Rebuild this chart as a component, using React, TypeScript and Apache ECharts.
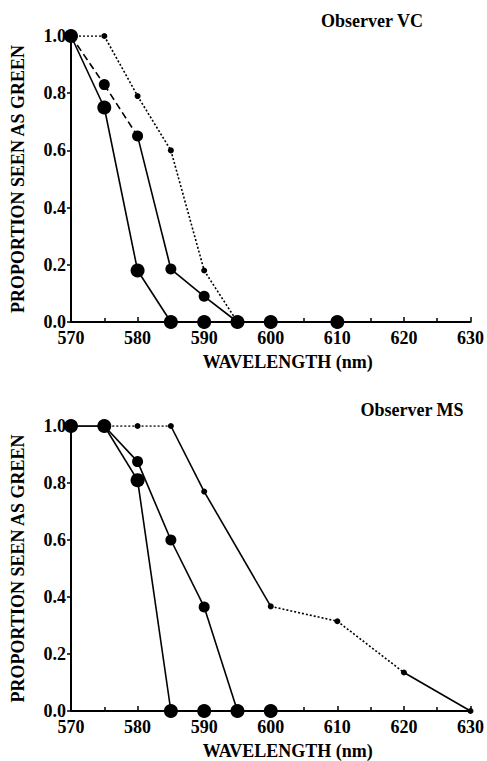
import React, { useEffect, useRef } from "react";
import * as echarts from "echarts";

// Observer VC
const vcLargeWl = [570, 575, 580, 585, 590, 595, 600, 610];
const vcLarge = [1.0, 0.75, 0.18, 0, 0, 0, 0, 0];
const vcLargeStyles = ["solid", "solid", "solid", "solid", "solid", "solid", "solid"];
const vcMediumWl = [570, 575, 580, 585, 590, 595];
const vcMedium = [1.0, 0.83, 0.65, 0.185, 0.09, 0];
const vcMediumStyles = ["dashed", "dashed", "solid", "solid", "solid"];
const vcSmallWl = [570, 575, 580, 585, 590, 595];
const vcSmall = [1.0, 1.0, 0.79, 0.6, 0.18, 0];
const vcSmallStyles = ["dotted", "dotted", "dotted", "dotted", "dotted"];

// Observer MS
const msLargeWl = [570, 575, 580, 585, 590, 595, 600];
const msLarge = [1.0, 1.0, 0.81, 0, 0, 0, 0];
const msLargeStyles = ["solid", "solid", "solid", "solid", "solid", "solid"];
const msMediumWl = [570, 575, 580, 585, 590, 595];
const msMedium = [1.0, 1.0, 0.875, 0.6, 0.365, 0];
const msMediumStyles = ["solid", "solid", "solid", "solid", "solid"];
const msSmallWl = [575, 580, 585, 590, 600, 610, 620, 630];
const msSmall = [1.0, 1.0, 1.0, 0.77, 0.367, 0.315, 0.135, 0];
const msSmallStyles = ["dotted", "dotted", "solid", "solid", "dotted", "dotted", "solid"];

const xTicks = [570, 580, 590, 600, 610, 620, 630];
const yTicks = [0, 0.2, 0.4, 0.6, 0.8, 1.0];
const titles = ["Observer VC", "Observer MS"];

const FONT = "'Liberation Serif', 'Times New Roman', serif";

function buildCurve(
  wl: number[],
  vals: number[],
  styles: string[],
  size: number,
  gridIdx: number
) {
  const out: any[] = [];
  for (let i = 0; i < wl.length - 1; i++) {
    const st = styles[i];
    const type = st === "dashed" ? [7, 4] : st === "dotted" ? [2, 2] : "solid";
    out.push({
      type: "line",
      xAxisIndex: gridIdx,
      yAxisIndex: gridIdx,
      data: [
        [wl[i], vals[i]],
        [wl[i + 1], vals[i + 1]],
      ],
      symbol: "none",
      silent: true,
      z: 3,
      lineStyle: { color: "#000", width: 1.6, type },
    });
  }
  out.push({
    type: "scatter",
    xAxisIndex: gridIdx,
    yAxisIndex: gridIdx,
    data: wl.map((w, i) => [w, vals[i]]),
    symbol: "circle",
    symbolSize: size,
    z: 5,
    itemStyle: { color: "#000", opacity: 1 },
  });
  return out;
}

export default function App() {
  const ref = useRef<HTMLDivElement>(null);
  useEffect(() => {
    document.body.style.margin = "0";
    const chart = echarts.init(ref.current!, null, { renderer: "svg" });
    const grids = [
      { left: 71, top: 36, width: 401, height: 286 },
      { left: 71, top: 426, width: 401, height: 286 },
    ];
    const xAxes = grids.map((_, i) => ({
      type: "value",
      gridIndex: i,
      min: xTicks[0],
      max: xTicks[xTicks.length - 1],
      interval: 10,
      name: "WAVELENGTH (nm)",
      nameLocation: "middle",
      nameGap: 31,
      nameTextStyle: {
        fontFamily: FONT,
        fontWeight: "bold",
        fontSize: 18,
        lineHeight: 18,
        color: "#000",
        padding: [0, 0, 0, 34],
      },
      axisLine: { show: true, onZero: false, lineStyle: { color: "#000", width: 2 } },
      axisTick: { show: true, inside: true, length: 5, lineStyle: { color: "#000", width: 1.5 } },
      minorTick: { show: true, splitNumber: 2, length: 4, lineStyle: { color: "#000", width: 1.5 } },
      splitLine: { show: false },
      axisLabel: {
        margin: 9,
        fontFamily: FONT,
        fontWeight: "bold",
        fontSize: 18,
        lineHeight: 14,
        color: "#000",
      },
    }));
    const yAxes = grids.map((_, i) => ({
      type: "value",
      gridIndex: i,
      min: yTicks[0],
      max: yTicks[yTicks.length - 1],
      interval: 0.2,
      name: "PROPORTION SEEN AS GREEN",
      nameLocation: "middle",
      nameGap: 44,
      nameTextStyle: { fontFamily: FONT, fontWeight: "bold", fontSize: 18, color: "#000" },
      axisLine: { show: true, onZero: false, lineStyle: { color: "#000", width: 2 } },
      axisTick: { show: true, inside: false, length: 4, lineStyle: { color: "#000", width: 1.5 } },
      splitLine: { show: false },
      axisLabel: {
        margin: 5,
        fontFamily: FONT,
        fontWeight: "bold",
        fontSize: 18,
        lineHeight: 12,
        padding: [0, 0, 4, 0],
        color: "#000",
        formatter: (v: number) => v.toFixed(1),
      },
    }));
    const series = [
      ...buildCurve(vcSmallWl, vcSmall, vcSmallStyles, 6, 0),
      ...buildCurve(vcMediumWl, vcMedium, vcMediumStyles, 11, 0),
      ...buildCurve(vcLargeWl, vcLarge, vcLargeStyles, 14, 0),
      ...buildCurve(msSmallWl, msSmall, msSmallStyles, 6, 1),
      ...buildCurve(msMediumWl, msMedium, msMediumStyles, 11, 1),
      ...buildCurve(msLargeWl, msLarge, msLargeStyles, 14, 1),
    ];
    chart.setOption({
      animation: false,
      backgroundColor: "#fff",
      grid: grids,
      xAxis: xAxes,
      yAxis: yAxes,
      series,
      graphic: [
        {
          type: "text",
          x: 372,
          y: 21,
          style: {
            text: titles[0],
            fontFamily: FONT,
            fontWeight: "bold",
            fontSize: 18,
            fill: "#000",
            textAlign: "center",
            textVerticalAlign: "middle",
          },
        },
        {
          type: "text",
          x: 412,
          y: 410,
          style: {
            text: titles[1],
            fontFamily: FONT,
            fontWeight: "bold",
            fontSize: 18,
            fill: "#000",
            textAlign: "center",
            textVerticalAlign: "middle",
          },
        },
      ],
    });
    return () => chart.dispose();
  }, []);
  return <div ref={ref} style={{ width: 487, height: 761 }} />;
}
